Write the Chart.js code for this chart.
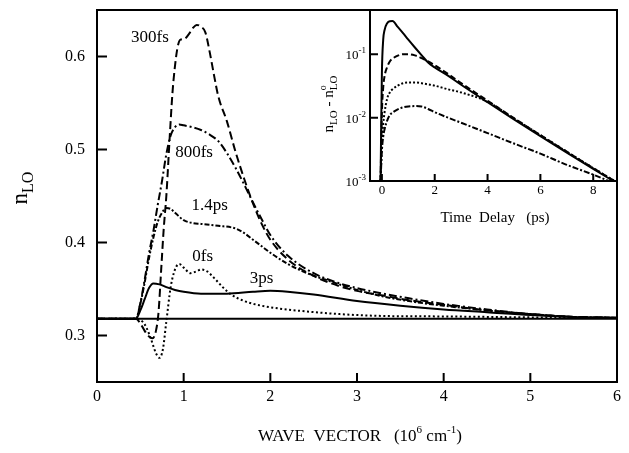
<!DOCTYPE html>
<html>
<head>
<meta charset="utf-8">
<script src="https://cdn.jsdelivr.net/npm/chart.js@4.4.1/dist/chart.umd.min.js"></script>
<style>
html, body { margin: 0; padding: 0; background: #fff; }
#wrap { position: relative; width: 629px; height: 453px; }
#wrap canvas { position: absolute; }
</style>
</head>
<body>
<div id="wrap">
  <canvas id="main" width="629" height="453" style="left:0;top:0"></canvas>
  <canvas id="inset" width="329" height="235" style="left:300px;top:0"></canvas>
</div>
<script>
const SERIF = '"Liberation Serif", "DejaVu Serif", serif';

// main plot: n_LO vs wave vector (10^6 cm^-1)
const xTicks = [0, 1, 2, 3, 4, 5, 6];
const yTicks = [0.3, 0.4, 0.5, 0.6];
const nEquil = 0.318;

const k0fs = [0, 0.45, 0.55, 0.62, 0.68, 0.72, 0.76, 0.8, 0.85, 0.9, 0.95, 1.0, 1.08, 1.15, 1.2, 1.27, 1.35, 1.45, 1.55, 1.7, 1.9, 2.1, 2.4, 2.8, 3.3, 4.0, 5.0, 6.0];
const n0fs = [0.318, 0.318, 0.312, 0.297, 0.281, 0.276, 0.285, 0.315, 0.352, 0.371, 0.377, 0.373, 0.367, 0.369, 0.371, 0.369, 0.362, 0.352, 0.344, 0.337, 0.332, 0.329, 0.326, 0.323, 0.321, 0.3205, 0.3195, 0.319];

const k300fs = [0, 0.45, 0.5, 0.55, 0.6, 0.64, 0.68, 0.71, 0.74, 0.77, 0.8, 0.84, 0.87, 0.9, 0.93, 0.96, 1.01, 1.06, 1.11, 1.15, 1.2, 1.25, 1.3, 1.35, 1.4, 1.5, 1.6, 1.7, 1.8, 1.9, 2.0, 2.2, 2.5, 2.8, 3.0, 3.3, 3.6, 4.0, 4.5, 5.0, 5.5, 6.0];
const n300fs = [0.318, 0.318, 0.313, 0.305, 0.299, 0.297, 0.305, 0.325, 0.37, 0.415, 0.45, 0.515, 0.56, 0.59, 0.61, 0.618, 0.619, 0.624, 0.631, 0.634, 0.632, 0.626, 0.605, 0.58, 0.557, 0.53, 0.497, 0.468, 0.442, 0.42, 0.403, 0.382, 0.364, 0.353, 0.348, 0.343, 0.338, 0.333, 0.327, 0.323, 0.320, 0.319];

const k800fs = [0, 0.45, 0.5, 0.55, 0.6, 0.65, 0.7, 0.75, 0.8, 0.85, 0.9, 0.95, 1.0, 1.1, 1.2, 1.3, 1.4, 1.5, 1.6, 1.7, 1.8, 1.9, 2.0, 2.2, 2.5, 2.8, 3.0, 3.3, 3.6, 4.0, 4.5, 5.0, 5.5, 6.0];
const n800fs = [0.318, 0.318, 0.335, 0.36, 0.388, 0.412, 0.44, 0.466, 0.495, 0.515, 0.524, 0.527, 0.526, 0.524, 0.521, 0.516, 0.509, 0.496, 0.48, 0.462, 0.443, 0.425, 0.408, 0.386, 0.367, 0.356, 0.351, 0.345, 0.34, 0.334, 0.328, 0.323, 0.320, 0.319];

const k1p4ps = [0, 0.45, 0.5, 0.55, 0.6, 0.65, 0.7, 0.75, 0.8, 0.85, 0.9, 1.0, 1.1, 1.2, 1.4, 1.6, 1.7, 1.8, 1.9, 2.0, 2.2, 2.4, 2.7, 3.0, 3.3, 3.6, 4.0, 4.5, 5.0, 5.5, 6.0];
const n1p4ps = [0.318, 0.318, 0.334, 0.357, 0.383, 0.405, 0.422, 0.432, 0.437, 0.436, 0.432, 0.424, 0.421, 0.42, 0.418, 0.415, 0.41, 0.403, 0.396, 0.389, 0.377, 0.368, 0.358, 0.349, 0.342, 0.337, 0.332, 0.327, 0.323, 0.320, 0.319];

const k3ps = [0, 0.45, 0.5, 0.55, 0.6, 0.65, 0.72, 0.8, 0.9, 1.0, 1.2, 1.5, 1.8, 2.0, 2.2, 2.5, 3.0, 3.5, 4.0, 4.5, 5.0, 5.5, 6.0];
const n3ps = [0.318, 0.318, 0.327, 0.339, 0.351, 0.356, 0.355, 0.352, 0.349, 0.347, 0.345, 0.345, 0.347, 0.348, 0.347, 0.344, 0.337, 0.332, 0.328, 0.325, 0.322, 0.320, 0.319];

// label anchors in data units
const curveLabels = [
  { text: '300fs', k: 0.61, n: 0.620 },
  { text: '800fs', k: 1.12, n: 0.497 },
  { text: '1.4ps', k: 1.30, n: 0.440 },
  { text: '0fs', k: 1.22, n: 0.385 },
  { text: '3ps', k: 1.90, n: 0.361 }
];

// inset: n_LO - n0_LO vs time delay (ps), log scale
const tTicks = [0, 2, 4, 6, 8];
const dTicks = [0.001, 0.01, 0.1];
const tDelay = [-0.05, 0, 0.05, 0.1, 0.2, 0.3, 0.4, 0.6, 0.8, 1.0, 1.25, 1.5, 1.75, 2, 2.5, 3, 4, 5, 6, 7, 8, 8.9];
const dSolid = [0.001, 0.05, 0.17, 0.24, 0.31, 0.333, 0.335, 0.27, 0.215, 0.17, 0.128, 0.097, 0.074, 0.062, 0.046, 0.033, 0.0175, 0.0094, 0.0051, 0.0028, 0.00155, 0.00092];
const dDash = [0.001, 0.012, 0.03, 0.045, 0.063, 0.077, 0.085, 0.095, 0.1, 0.1, 0.096, 0.087, 0.077, 0.067, 0.049, 0.035, 0.0185, 0.0098, 0.0053, 0.0029, 0.0016, 0.00094];
const dDot = [0.001, 0.004, 0.008, 0.012, 0.02, 0.025, 0.028, 0.032, 0.035, 0.036, 0.036, 0.035, 0.0335, 0.032, 0.028, 0.025, 0.0178, 0.0097, 0.0053, 0.0029, 0.0016, 0.00095];
const dDashDot = [0.001, 0.003, 0.005, 0.0065, 0.009, 0.011, 0.012, 0.0135, 0.0145, 0.015, 0.0152, 0.015, 0.0137, 0.0122, 0.01, 0.0083, 0.0057, 0.0039, 0.0027, 0.0018, 0.00126, 0.00088];

function pts(xs, ys) { return xs.map((x, i) => ({ x: x, y: ys[i] })); }
function line(xs, ys, dash) {
  return { data: pts(xs, ys), borderColor: '#000', borderWidth: 2, borderDash: dash, pointRadius: 0, cubicInterpolationMode: 'monotone', fill: false };
}
// keep the plot box where the figure has it
function noPad(s) { s.paddingTop = 0; s.paddingBottom = 0; s.paddingLeft = 0; s.paddingRight = 0; }

// text with sub/superscripts, centred on cx, baseline cy
function rich(ctx, parts, cx, cy) {
  let w = 0;
  parts.forEach(p => { ctx.font = p.s + 'px ' + SERIF; p.w = ctx.measureText(p.t).width; if (!p.keep) w += p.w; });
  let px = cx - w / 2;
  ctx.textAlign = 'left'; ctx.textBaseline = 'alphabetic';
  parts.forEach(p => {
    ctx.font = p.s + 'px ' + SERIF;
    ctx.fillText(p.t, px, cy + (p.dy || 0));
    if (!p.keep) px += p.w;
  });
}

const mainDecor = {
  id: 'mainDecor',
  afterDraw(chart) {
    const { ctx, chartArea: a, scales: { x, y } } = chart;
    ctx.save();
    ctx.strokeStyle = '#000'; ctx.fillStyle = '#000'; ctx.lineWidth = 2;
    ctx.strokeRect(a.left, a.top, a.right - a.left, a.bottom - a.top);
    ctx.beginPath();
    xTicks.forEach(v => { const p = x.getPixelForValue(v); ctx.moveTo(p, a.bottom); ctx.lineTo(p, a.bottom - 9); });
    yTicks.forEach(v => { const p = y.getPixelForValue(v); ctx.moveTo(a.left, p); ctx.lineTo(a.left + 10, p); });
    ctx.stroke();

    ctx.font = '17px ' + SERIF; ctx.textAlign = 'center'; ctx.textBaseline = 'middle';
    curveLabels.forEach(l => ctx.fillText(l.text, x.getPixelForValue(l.k), y.getPixelForValue(l.n)));

    rich(ctx, [
      { t: 'WAVE  VECTOR   (10', s: 17 }, { t: '6', s: 11, dy: -8 },
      { t: ' cm', s: 17 }, { t: '-1', s: 11, dy: -8 }, { t: ')', s: 17 }
    ], 360, 441);

    ctx.translate(27, 188); ctx.rotate(-Math.PI / 2);
    rich(ctx, [{ t: 'n', s: 23 }, { t: 'LO', s: 16, dy: 6 }], 0, 0);
    ctx.restore();
  }
};

new Chart(document.getElementById('main'), {
  type: 'line',
  data: {
    datasets: [
      line([0, 6], [nEquil, nEquil], []),
      line(k3ps, n3ps, []),
      line(k1p4ps, n1p4ps, [5, 2, 2, 2]),
      line(k800fs, n800fs, [8, 3, 2, 3]),
      line(k300fs, n300fs, [8, 4]),
      line(k0fs, n0fs, [2, 2.5])
    ]
  },
  options: {
    responsive: false, animation: false, devicePixelRatio: 1,
    layout: { padding: { top: 10, right: 12, left: 0, bottom: 0 } },
    plugins: { legend: { display: false }, tooltip: { enabled: false } },
    scales: {
      x: {
        type: 'linear', min: 0, max: 6,
        afterFit: s => { s.height = 71; noPad(s); },
        afterBuildTicks: s => { s.ticks = xTicks.map(v => ({ value: v })); },
        grid: { display: false, drawTicks: false }, border: { display: false },
        ticks: { padding: 5, color: '#000', autoSkip: false, maxRotation: 0, font: { family: SERIF, size: 16 }, callback: v => String(v) }
      },
      y: {
        type: 'linear', min: 0.25, max: 0.65,
        afterFit: s => { s.width = 97; noPad(s); },
        afterBuildTicks: s => { s.ticks = yTicks.map(v => ({ value: v })); },
        grid: { display: false, drawTicks: false }, border: { display: false },
        ticks: { padding: 12, color: '#000', autoSkip: false, font: { family: SERIF, size: 16 }, callback: v => v.toFixed(1) }
      }
    }
  },
  plugins: [mainDecor]
});

const insetDecor = {
  id: 'insetDecor',
  afterDraw(chart) {
    const { ctx, chartArea: a, scales: { x, y } } = chart;
    ctx.save();
    ctx.strokeStyle = '#000'; ctx.fillStyle = '#000'; ctx.lineWidth = 2;
    ctx.strokeRect(a.left, a.top, a.right - a.left, a.bottom - a.top);
    ctx.beginPath();
    tTicks.forEach(v => { const p = x.getPixelForValue(v); ctx.moveTo(p, a.bottom); ctx.lineTo(p, a.bottom - 7); });
    dTicks.forEach(v => { const p = y.getPixelForValue(v); ctx.moveTo(a.left, p); ctx.lineTo(a.left + 8, p); });
    ctx.stroke();

    dTicks.forEach(v => {
      const p = y.getPixelForValue(v);
      const e = String(Math.round(Math.log10(v)));
      ctx.font = '9px ' + SERIF; const we = ctx.measureText(e).width;
      ctx.font = '13px ' + SERIF; const wb = ctx.measureText('10').width;
      const right = a.left - 4;
      rich(ctx, [{ t: '10', s: 13 }, { t: e, s: 9, dy: -6 }], right - (wb + we) / 2, p + 5);
    });

    rich(ctx, [{ t: 'Time  Delay   (ps)', s: 15 }], 195, 222);

    ctx.translate(33, 104); ctx.rotate(-Math.PI / 2);
    rich(ctx, [
      { t: 'n', s: 15 }, { t: 'LO', s: 11, dy: 4 }, { t: ' - ', s: 15 },
      { t: 'n', s: 15 }, { t: 'o', s: 10, dy: -7, keep: true }, { t: 'LO', s: 11, dy: 4 }
    ], 0, 0);
    ctx.restore();
  }
};

new Chart(document.getElementById('inset'), {
  type: 'line',
  data: {
    datasets: [
      line(tDelay, dSolid, []),
      line(tDelay, dDash, [6, 3]),
      line(tDelay, dDot, [2, 2]),
      line(tDelay, dDashDot, [6, 2, 2, 2])
    ]
  },
  options: {
    responsive: false, animation: false, devicePixelRatio: 1,
    layout: { padding: { top: 10, right: 12, left: 0, bottom: 0 } },
    plugins: { legend: { display: false }, tooltip: { enabled: false } },
    scales: {
      x: {
        type: 'linear', min: -0.45, max: 8.9,
        afterFit: s => { s.height = 54; noPad(s); },
        afterBuildTicks: s => { s.ticks = tTicks.map(v => ({ value: v })); },
        grid: { display: false, drawTicks: false }, border: { display: false },
        ticks: { padding: 2, color: '#000', autoSkip: false, maxRotation: 0, font: { family: SERIF, size: 13 }, callback: v => String(v) }
      },
      y: {
        type: 'logarithmic', min: 0.001, max: 0.5,
        afterFit: s => { s.width = 70; noPad(s); },
        afterBuildTicks: s => { s.ticks = dTicks.map(v => ({ value: v })); },
        grid: { display: false, drawTicks: false }, border: { display: false },
        ticks: { display: false }
      }
    }
  },
  plugins: [insetDecor]
});
</script>
</body>
</html>
